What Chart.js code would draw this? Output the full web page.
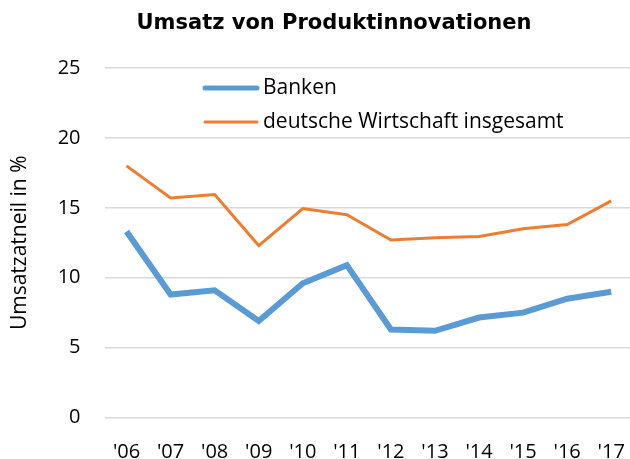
<!DOCTYPE html>
<html>
<head>
<meta charset="utf-8">
<script src="https://cdn.jsdelivr.net/npm/chart.js@4/dist/chart.umd.min.js"></script>
<style>
  html,body{margin:0;padding:0;background:#fff;overflow:hidden;}
  #wrap{width:640px;height:459px;}
</style>
</head>
<body>
<div id="wrap"><canvas id="c" width="640" height="459"></canvas></div>
<script>
// Umsatzanteil von Produktinnovationen in %
const years=["'06","'07","'08","'09","'10","'11","'12","'13","'14","'15","'16","'17"];
const banken=[13.3,8.8,9.1,6.9,9.6,10.9,6.3,6.2,7.15,7.5,8.5,9.0];
const wirtschaft=[18.0,15.7,15.95,12.3,14.95,14.5,12.7,12.85,12.95,13.5,13.8,15.5];
const yTicks=[0,5,10,15,20,25];
const chartTitle='Umsatz von Produktinnovationen';

const txtFont="'Open Sans', sans-serif";

// title + legend drawn by hand (legend sits inside the plot, top left)
const decorations={
  id:'decorations',
  afterDraw(chart){
    const ctx=chart.ctx;
    ctx.save();
    ctx.fillStyle='#000';
    ctx.font="bold 21px 'DejaVu Sans', sans-serif";
    ctx.textAlign='center'; ctx.textBaseline='middle';
    ctx.fillText(chartTitle,334,24);
    const rowY=[88,122];
    ctx.textAlign='left';
    chart.data.datasets.forEach((ds,i)=>{
      const y=rowY[i];
      ctx.strokeStyle=ds.borderColor;
      ctx.lineWidth=i===0?5:3;
      ctx.lineCap='round';
      ctx.beginPath(); ctx.moveTo(205,y); ctx.lineTo(257,y); ctx.stroke();
      ctx.fillStyle='#000';
      ctx.font='21px '+txtFont;
      ctx.fillText(ds.label,263,y);
    });
    ctx.restore();
  }
};

new Chart(document.getElementById('c'),{
  type:'line',
  data:{labels:years,datasets:[
    {label:'Banken',data:banken,borderColor:'#5B9BD5',borderWidth:6,pointRadius:0,tension:0,borderJoinStyle:'miter'},
    {label:'deutsche Wirtschaft insgesamt',data:wirtschaft,borderColor:'#ED7D31',borderWidth:3,pointRadius:0,tension:0,borderJoinStyle:'miter'}
  ]},
  options:{
    responsive:false,animation:false,
    layout:{padding:{left:0,right:3,top:68,bottom:0}},
    plugins:{legend:{display:false},tooltip:{enabled:false},title:{display:false}},
    scales:{
      x:{
        offset:true,
        grid:{display:false},border:{display:false},
        ticks:{color:'#000',font:{family:txtFont,size:20},padding:15,maxRotation:0,autoSkip:false},
        afterFit(s){s.height=41.5;}
      },
      y:{
        min:0,max:25,
        afterBuildTicks(s){s.ticks=yTicks.map(v=>({value:v}));},
        grid:{color:'#D9D9D9',lineWidth:1.5,drawTicks:false},border:{display:false},
        ticks:{color:'#000',font:{family:txtFont,size:20},padding:24},
        title:{display:true,text:'Umsatzatneil in %',color:'#000',font:{family:txtFont,size:21},padding:{top:7,bottom:0}},
        afterFit(s){s.width=104.5;}
      }
    }
  },
  plugins:[decorations]
});
</script>
</body>
</html>
